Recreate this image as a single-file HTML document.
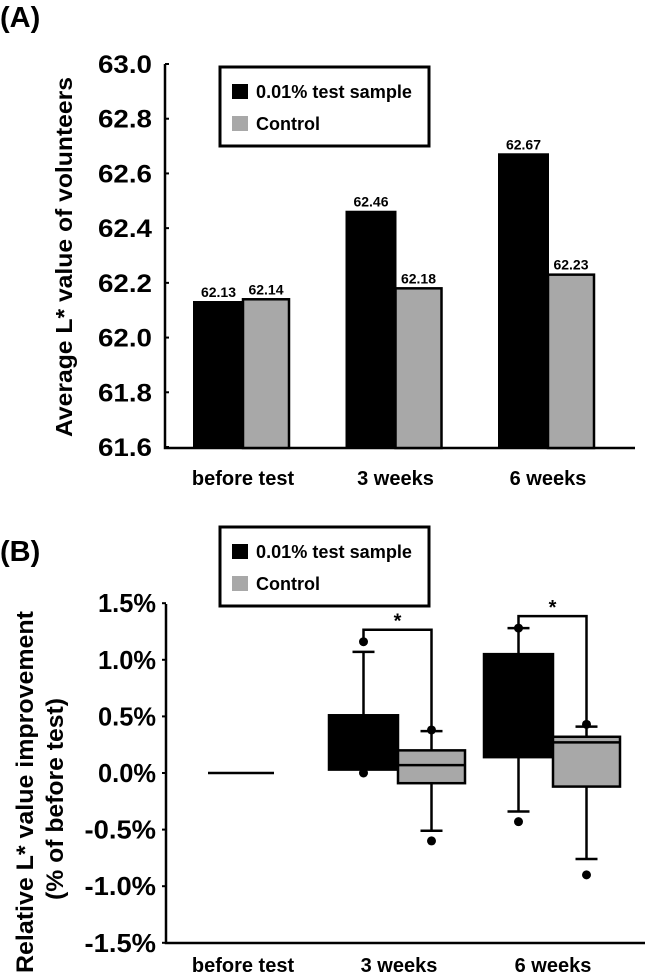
<!DOCTYPE html>
<html><head><meta charset="utf-8"><style>
html,body{margin:0;padding:0;background:#fff;}
svg{display:block;font-family:"Liberation Sans",Arial,sans-serif;font-weight:bold;}
</style></head><body>
<svg id="fig" width="645" height="975" viewBox="0 0 645 975" xmlns="http://www.w3.org/2000/svg">
<g id="pa"></g>
<g id="pb"></g>
</svg>
<script>
// ---- Panel A data ----
const catsA = ["before test", "3 weeks", "6 weeks"];
const testVals = [62.13, 62.46, 62.67];
const ctrlVals = [62.14, 62.18, 62.23];
const ticksA = [61.6, 61.8, 62.0, 62.2, 62.4, 62.6, 62.8, 63.0];
// ---- Panel B data (percent) ----
const catsB = ["before test", "3 weeks", "6 weeks"];
const testQ1 = [0, 0.03, 0.14];
const testMed = [0, 0.20, 0.50];
const testQ3 = [0, 0.51, 1.05];
const testLo = [0, 0.03, -0.34];
const testHi = [0, 1.07, 1.28];
const testOutLo = [null, 0.0, -0.43];
const testOutHi = [null, 1.16, 1.28];
const ctrlQ1 = [0, -0.09, -0.12];
const ctrlMed = [0, 0.07, 0.27];
const ctrlQ3 = [0, 0.20, 0.32];
const ctrlLo = [0, -0.51, -0.76];
const ctrlHi = [0, 0.37, 0.41];
const ctrlOutLo = [null, -0.60, -0.90];
const ctrlOutHi = [null, 0.38, 0.43];
const ticksB = [-1.5, -1.0, -0.5, 0.0, 0.5, 1.0, 1.5];

const NS = "http://www.w3.org/2000/svg";
function mk(parent, tag, attrs, text) {
  const e = document.createElementNS(NS, tag);
  for (const k in attrs) e.setAttribute(k, attrs[k]);
  if (text !== undefined) e.textContent = text;
  parent.appendChild(e);
  return e;
}
const GRAY = "#a8a8a8";

// ================= Panel A =================
const pa = document.getElementById("pa");
const yA = v => 447 - (v - 61.6) / 1.4 * 383;
const cxA = i => 243 + i * 152.5;
let t = mk(pa, "text", {x: 0, y: 27, "font-size": 29}, "(A)");


let ax = mk(pa, "path", {d: "M165 64 V448 H635", fill: "none", stroke: "#000", "stroke-width": 2.5});


ticksA.forEach(v => {
  const y = yA(v);
  const tk = mk(pa, "line", {x1: 165, x2: 169, y1: y, y2: y, stroke: "#000", "stroke-width": 2});
  
  
  const lb = mk(pa, "text", {x: 152, y: y + 9, "font-size": 25, "text-anchor": "end", textLength: 54, lengthAdjust: "spacingAndGlyphs"}, v.toFixed(1));
  
  
});
let yt = mk(pa, "text", {x: 0, y: 0, "font-size": 23, "text-anchor": "middle", transform: "translate(72 257) rotate(-90)", textLength: 360, lengthAdjust: "spacingAndGlyphs"}, "Average L* value of volunteers");


catsA.forEach((c, i) => {
  const cx = cxA(i);
  const w1 = 49, w2 = 46;
  const b1 = mk(pa, "rect", {x: cx - w1, y: yA(testVals[i]), width: w1, height: 448 - yA(testVals[i]), fill: "#000", stroke: "#000", "stroke-width": 2});
  
  
  const b2 = mk(pa, "rect", {x: cx, y: yA(ctrlVals[i]), width: w2, height: 448 - yA(ctrlVals[i]), fill: GRAY, stroke: "#000", "stroke-width": 2.5});
  
  
  const l1 = mk(pa, "text", {x: cx - w1 / 2, y: yA(testVals[i]) - 5, "font-size": 14, "text-anchor": "middle"}, testVals[i].toFixed(2));
  
  
  const l2 = mk(pa, "text", {x: cx + w2 / 2, y: yA(ctrlVals[i]) - 5, "font-size": 14, "text-anchor": "middle"}, ctrlVals[i].toFixed(2));
  
  
  const xl = mk(pa, "text", {x: cx, y: 485, "font-size": 20, "font-weight": "normal", "text-anchor": "middle", style: "font-weight:bold"}, c);
  
  
});
function legend(parent, y0, name) {
  const g = mk(parent, "g", {});
  
  
  mk(g, "rect", {x: 220, y: y0, width: 209, height: 79, fill: "#fff", stroke: "#000", "stroke-width": 3});
  const s1 = mk(g, "rect", {x: 232, y: y0 + 17, width: 16, height: 15, fill: "#000"});
  
  
  const s2 = mk(g, "rect", {x: 232, y: y0 + 49, width: 16, height: 15, fill: GRAY});
  
  
  const t1 = mk(g, "text", {x: 256, y: y0 + 31, "font-size": 18, textLength: 156, lengthAdjust: "spacingAndGlyphs"}, "0.01% test sample");
  
  
  const t2 = mk(g, "text", {x: 256, y: y0 + 63, "font-size": 18, textLength: 64, lengthAdjust: "spacingAndGlyphs"}, "Control");
  
  
}
legend(pa, 67, "legend-a");

// ================= Panel B =================
const pb = document.getElementById("pb");
const yB = v => 773 - v * 113.2;
const cxB = i => [241, 398, 553][i];
t = mk(pb, "text", {x: 0, y: 561, "font-size": 29}, "(B)");


ax = mk(pb, "path", {d: "M166 604 V943 H645", fill: "none", stroke: "#000", "stroke-width": 2.5});


ticksB.forEach(v => {
  const y = yB(v);
  const tk = mk(pb, "line", {x1: 162, x2: 166, y1: y, y2: y, stroke: "#000", "stroke-width": 2});
  
  
  const s = v.toFixed(1) + "%";
  const lb = mk(pb, "text", {x: 156, y: y + 9, "font-size": 26, "text-anchor": "end", textLength: s.length * 13.5 + 4, lengthAdjust: "spacingAndGlyphs"}, s);
  
  
});
yt = mk(pb, "text", {x: 0, y: 0, "font-size": 24, "text-anchor": "middle", transform: "translate(33 792) rotate(-90)", textLength: 362, lengthAdjust: "spacingAndGlyphs"}, "Relative L* value improvement");


yt = mk(pb, "text", {x: 0, y: 0, "font-size": 24, "text-anchor": "middle", transform: "translate(63 799) rotate(-90)", textLength: 202, lengthAdjust: "spacingAndGlyphs"}, "(% of before test)");



function box(g, x0, x1, q1, med, q3, lo, hi, oLo, oHi, fill, name) {
  const grp = mk(g, "g", {});
  
  
  const wx = (x0 + x1) / 2;
  mk(grp, "line", {x1: wx, x2: wx, y1: yB(hi), y2: yB(q3), stroke: "#000", "stroke-width": 2.5});
  mk(grp, "line", {x1: wx, x2: wx, y1: yB(q1), y2: yB(lo), stroke: "#000", "stroke-width": 2.5});
  mk(grp, "line", {x1: wx - 11, x2: wx + 11, y1: yB(hi), y2: yB(hi), stroke: "#000", "stroke-width": 2.5});
  if (lo < q1) mk(grp, "line", {x1: wx - 11, x2: wx + 11, y1: yB(lo), y2: yB(lo), stroke: "#000", "stroke-width": 2.5});
  mk(grp, "rect", {x: x0, y: yB(q3), width: x1 - x0, height: yB(q1) - yB(q3), fill: fill, stroke: "#000", "stroke-width": 2.5});
  mk(grp, "line", {x1: x0, x2: x1, y1: yB(med), y2: yB(med), stroke: "#000", "stroke-width": 2.5});
  if (oLo !== null) mk(grp, "circle", {cx: wx, cy: yB(oLo), r: 4.5, fill: "#000"});
  if (oHi !== null) mk(grp, "circle", {cx: wx, cy: yB(oHi), r: 4.5, fill: "#000"});
  return wx;
}
catsB.forEach((c, i) => {
  const cx = cxB(i);
  if (i === 0) {
    const ln = mk(pb, "line", {x1: 208, x2: 274, y1: yB(testMed[0]), y2: yB(testMed[0]), stroke: "#000", "stroke-width": 2.5});
    
    
  } else {
    const w1 = box(pb, cx - 69, cx, testQ1[i], testMed[i], testQ3[i], testLo[i], testHi[i], testOutLo[i], testOutHi[i], "#000", "box-test-" + i);
    const w2 = box(pb, cx, cx + 67, ctrlQ1[i], ctrlMed[i], ctrlQ3[i], ctrlLo[i], ctrlHi[i], ctrlOutLo[i], ctrlOutHi[i], GRAY, "box-control-" + i);
    const top = Math.min(yB(testHi[i]), yB(testOutHi[i])) - 12;
    const br = mk(pb, "path", {d: `M${w1} ${yB(testOutHi[i]) - 4} V${top} H${w2} V${yB(ctrlOutHi[i]) - 4}`, fill: "none", stroke: "#000", "stroke-width": 2.5});
    
    
    const st = mk(pb, "text", {x: (w1 + w2) / 2, y: top - 2, "font-size": 20, "text-anchor": "middle"}, "*");
    
    
  }
  const xl = mk(pb, "text", {x: [243, 399, 553][i], y: 972, "font-size": 20, "text-anchor": "middle"}, c);
  
  
});
legend(pb, 527, "legend-b");
</script>
</body></html>
